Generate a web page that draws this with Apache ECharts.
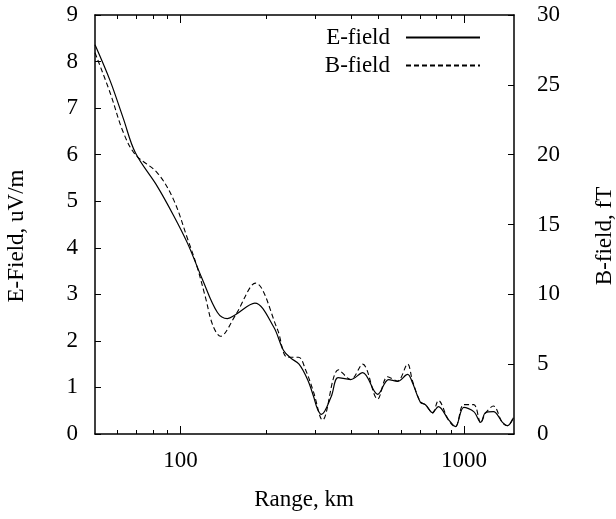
<!DOCTYPE html>
<html><head><meta charset="utf-8">
<script src="https://cdn.jsdelivr.net/npm/echarts@6/dist/echarts.min.js"></script>
<style>html,body{margin:0;padding:0;background:#fff}#c{width:616px;height:519px}</style>
</head><body><div id="c"></div>
<script>
// E-field (uV/m) vs range (km)
const eRange = [50, 56.6, 62.9, 69.4, 82.9, 94.5, 105.9, 119.6, 135.1, 146.5, 156.3, 183, 212.8, 230.8, 245, 262, 280.7, 295, 304.5, 314, 340, 360, 398.5, 439, 496, 542, 583, 632.6, 658, 702, 731, 774, 812, 881, 932, 998, 1082, 1145, 1191, 1269, 1366, 1423, 1493];
const eValues = [8.36, 7.58, 6.78, 6.04, 5.32, 4.7, 4.1, 3.32, 2.61, 2.48, 2.56, 2.81, 2.31, 1.8, 1.63, 1.5, 1.17, 0.8, 0.53, 0.42, 0.8, 1.21, 1.17, 1.32, 0.85, 1.17, 1.13, 1.28, 1.1, 0.68, 0.63, 0.46, 0.59, 0.31, 0.16, 0.57, 0.48, 0.25, 0.46, 0.48, 0.25, 0.18, 0.35];
// B-field (fT) vs range (km)
const bRange = [50, 56.6, 62.9, 69.4, 82.9, 94.5, 105.9, 114.8, 122.5, 130, 138.4, 156.3, 184, 219.8, 238.4, 260.7, 276.2, 294.8, 317, 361, 398.5, 439, 496, 537.7, 583, 632.6, 658, 702, 731, 774, 812, 881, 932, 998, 1082, 1145, 1191, 1269, 1366, 1423, 1493];
const bValues = [27.3, 24.4, 21.6, 20.0, 18.7, 16.8, 14.0, 11.9, 9.8, 7.8, 7.0, 8.5, 10.8, 7.5, 5.5, 5.5, 4.6, 3.0, 1.0, 4.6, 3.9, 5.0, 2.5, 4.1, 3.8, 5.0, 3.8, 2.3, 2.1, 1.5, 2.4, 1.0, 0.5, 2.1, 2.1, 0.8, 1.5, 2.0, 0.8, 0.6, 1.2];
// Axis ticks
const xMajorTicks = [100, 1000];
const xMinorTicks = [60, 70, 80, 90, 200, 300, 400, 500, 600, 700, 800, 900];
const xMin = 50, xMax = 1500;
const eMin = 0, eMax = 9, eStep = 1;
const bMin = 0, bMax = 30, bStep = 5;

const FONT = '"Liberation Serif", "DejaVu Serif", serif';
const FS = 23;
const chart = echarts.init(document.getElementById('c'), null, {renderer: 'canvas'});

function xAxisDef(pos, ticks, len, labels, line) {
  return {
    type: 'log', logBase: 10, min: xMin, max: xMax, position: pos,
    axisLine: {show: line, onZero: false, lineStyle: {color: '#000', width: 1.5}},
    axisTick: {show: true, inside: true, length: len, customValues: ticks, lineStyle: {color: '#000', width: 1}},
    axisLabel: labels ? {show: true, customValues: ticks, margin: 15, color: '#000', fontFamily: FONT, fontSize: FS, formatter: v => String(Math.round(v))} : {show: false},
    splitLine: {show: false}, minorTick: {show: false}, minorSplitLine: {show: false}
  };
}

chart.setOption({
  backgroundColor: '#fff',
  animation: false,
  grid: {left: 95, right: 102, top: 15, bottom: 85, containLabel: false},
  xAxis: [
    xAxisDef('bottom', xMajorTicks, 8, true, true),
    xAxisDef('bottom', xMinorTicks, 4, false, false),
    xAxisDef('top', xMajorTicks, 8, false, true),
    xAxisDef('top', xMinorTicks, 4, false, false)
  ],
  yAxis: [
    {type: 'value', min: eMin, max: eMax, interval: eStep, position: 'left',
     axisLine: {show: true, onZero: false, lineStyle: {color: '#000', width: 1.5}},
     axisTick: {show: true, inside: true, length: 6, lineStyle: {color: '#000'}},
     axisLabel: {color: '#000', fontFamily: FONT, fontSize: FS, margin: 17},
     splitLine: {show: false}},
    {type: 'value', min: bMin, max: bMax, interval: bStep, position: 'right',
     axisLine: {show: true, onZero: false, lineStyle: {color: '#000', width: 1.5}},
     axisTick: {show: true, inside: true, length: 6, lineStyle: {color: '#000'}},
     axisLabel: {color: '#000', fontFamily: FONT, fontSize: FS, margin: 23},
     splitLine: {show: false}}
  ],
  legend: {
    data: ['E-field', 'B-field'], orient: 'vertical', right: 130, top: 21,
    align: 'right', itemWidth: 74, itemHeight: 14, itemGap: 5,
    selectedMode: false,
    itemStyle: {opacity: 0, color: 'transparent', borderWidth: 0},
    textStyle: {color: '#000', fontFamily: FONT, fontSize: FS, lineHeight: 22, padding: [0, 11, 0, 0]}
  },
  graphic: [
    {type: 'text', x: 304, y: 500, style: {text: 'Range, km', fill: '#000', font: FS + 'px ' + FONT, align: 'center', verticalAlign: 'middle'}},
    {type: 'text', x: 17, y: 236, rotation: Math.PI / 2, style: {text: 'E-Field, uV/m', fill: '#000', font: FS + 'px ' + FONT, align: 'center', verticalAlign: 'middle'}},
    {type: 'text', x: 605, y: 236, rotation: Math.PI / 2, style: {text: 'B-field, fT', fill: '#000', font: FS + 'px ' + FONT, align: 'center', verticalAlign: 'middle'}}
  ],
  series: [
    {name: 'E-field', type: 'line', xAxisIndex: 0, yAxisIndex: 0, smooth: 0.35, symbol: 'none', showSymbol: false,
     lineStyle: {color: '#000', width: 1.2, type: 'solid'}, itemStyle: {color: '#000'},
     data: eRange.map((r, i) => [r, eValues[i]])},
    {name: 'B-field', type: 'line', xAxisIndex: 0, yAxisIndex: 1, smooth: 0.35, symbol: 'none', showSymbol: false,
     lineStyle: {color: '#000', width: 1.1, type: [5, 3]}, itemStyle: {color: '#000'},
     data: bRange.map((r, i) => [r, bValues[i]])}
  ]
});
</script>
</body></html>
